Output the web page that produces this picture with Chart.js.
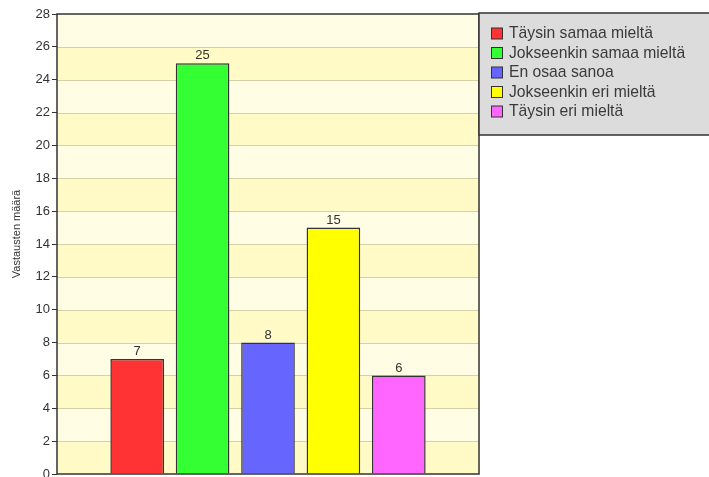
<!DOCTYPE html>
<html>
<head>
<meta charset="utf-8">
<script src="https://cdn.jsdelivr.net/npm/chart.js@4"></script>
<style>
  html, body { margin: 0; padding: 0; background: #fff; }
  #kaavio { display: block; }
</style>
</head>
<body>
<canvas id="kaavio" width="709" height="477"></canvas>
<script>
// vastausvaihtoehdot ja niiden lukumäärät
const vaihtoehdot = ["Täysin samaa mieltä", "Jokseenkin samaa mieltä", "En osaa sanoa", "Jokseenkin eri mieltä", "Täysin eri mieltä"];
const maarat = [7, 25, 8, 15, 6];
const varit = ["#ff3333", "#33ff33", "#6666ff", "#ffff00", "#ff66ff"];
const yMax = 28;
const yAskel = 2;
const yOtsikko = "Vastausten määrä";

const fontti = "'Liberation Sans', Arial, sans-serif";

// vuorottelevat keltaiset vyöhykkeet + kehys
const taustaPlugin = {
  id: "tausta",
  beforeDatasetsDraw(chart) {
    const { ctx, chartArea: a, scales } = chart;
    const y = scales.y;
    ctx.save();
    for (let v = 0; v < yMax; v += yAskel) {
      const y0 = y.getPixelForValue(v);
      const y1 = y.getPixelForValue(v + yAskel);
      ctx.fillStyle = (v / yAskel) % 2 === 0 ? "#fffac6" : "#fffde3";
      ctx.fillRect(a.left, y1, a.right - a.left, y0 - y1);
    }
    ctx.strokeStyle = "#d6d0a6";
    ctx.lineWidth = 1;
    for (let v = yAskel; v < yMax; v += yAskel) {
      const py = Math.round(y.getPixelForValue(v)) + 0.5;
      ctx.beginPath();
      ctx.moveTo(a.left, py);
      ctx.lineTo(a.right, py);
      ctx.stroke();
    }
    ctx.restore();
  },
  afterDatasetsDraw(chart) {
    const { ctx, chartArea: a } = chart;
    ctx.save();
    ctx.strokeStyle = "#333";
    ctx.lineWidth = 1.5;
    ctx.strokeRect(a.left, a.top, a.right - a.left, a.bottom - a.top);

    // arvot pylväiden yläpuolelle
    ctx.fillStyle = "#333";
    ctx.font = "13px " + fontti;
    ctx.textAlign = "center";
    ctx.textBaseline = "bottom";
    chart.data.datasets.forEach((ds, i) => {
      const el = chart.getDatasetMeta(i).data[0];
      ctx.fillText(String(ds.data[0]), el.x, el.y - 1);
    });

    // y-akselin otsikko
    ctx.font = "11px " + fontti;
    ctx.textBaseline = "middle";
    ctx.translate(17, 234);
    ctx.rotate(-Math.PI / 2);
    ctx.fillText(yOtsikko, 0, 0);
    ctx.restore();
  }
};

// selite harmaassa laatikossa oikealla ylhäällä
const selitePlugin = {
  id: "selite",
  afterDraw(chart) {
    const { ctx, chartArea: a } = chart;
    ctx.save();
    ctx.fillStyle = "#dcdcdc";
    ctx.fillRect(a.right, 13, chart.width - a.right + 2, 122);
    ctx.strokeStyle = "#333";
    ctx.lineWidth = 1.5;
    ctx.strokeRect(a.right, 13, chart.width - a.right + 2, 122);
    ctx.font = "15.7px " + fontti;
    ctx.textBaseline = "middle";
    ctx.textAlign = "left";
    chart.data.datasets.forEach((ds, i) => {
      const cy = 33.5 + i * 19.5;
      ctx.fillStyle = ds.backgroundColor;
      ctx.fillRect(491.5, cy - 5.5, 11, 11);
      ctx.strokeStyle = "#333";
      ctx.lineWidth = 1;
      ctx.strokeRect(491.5, cy - 5.5, 11, 11);
      ctx.fillStyle = "#3a3a3a";
      ctx.fillText(ds.label, 509, cy + 0.5);
    });
    ctx.restore();
  }
};

new Chart(document.getElementById("kaavio"), {
  type: "bar",
  data: {
    labels: [""],
    datasets: vaihtoehdot.map((nimi, i) => ({
      label: nimi,
      data: [maarat[i]],
      backgroundColor: varit[i],
      borderColor: "#333",
      borderWidth: 1.5,
      categoryPercentage: 0.775,
      barPercentage: 0.82
    }))
  },
  options: {
    responsive: false,
    animation: false,
    layout: { padding: { left: 0, top: 14, right: 230, bottom: 3 } },
    plugins: {
      legend: { display: false },
      tooltip: { enabled: false }
    },
    scales: {
      x: { display: false },
      y: {
        min: 0,
        max: yMax,
        afterFit(scale) {
          scale.width = 57;
          scale.paddingTop = 0;
          scale.paddingBottom = 0;
        },
        ticks: {
          stepSize: yAskel,
          color: "#333",
          padding: 2,
          font: { family: fontti, size: 13 }
        },
        grid: {
          drawOnChartArea: false,
          drawTicks: true,
          tickLength: 5,
          tickColor: "#333"
        },
        border: { display: false }
      }
    }
  },
  plugins: [taustaPlugin, selitePlugin]
});
</script>
</body>
</html>
